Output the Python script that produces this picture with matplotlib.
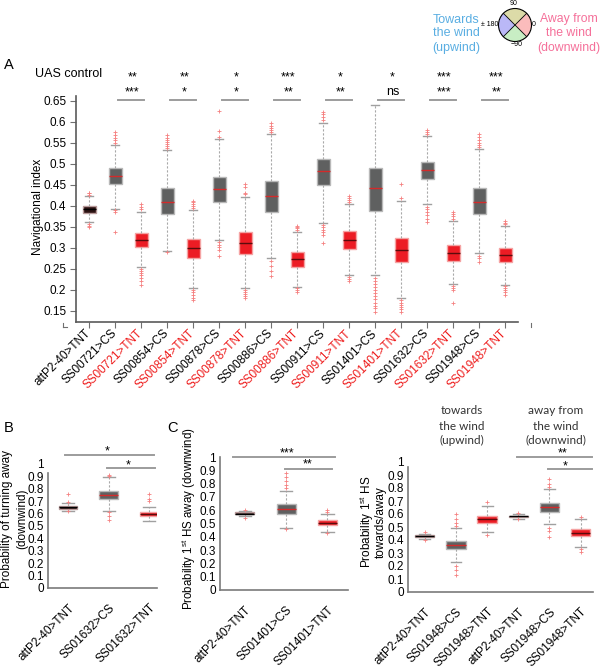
import matplotlib
matplotlib.use('Agg')
import matplotlib.pyplot as plt
from matplotlib.patches import Wedge, Circle
from matplotlib.transforms import blended_transform_factory
from matplotlib.ticker import FuncFormatter

plt.rcParams['font.family'] = ['Liberation Sans', 'DejaVu Sans']
plt.rcParams['mathtext.fontset'] = 'custom'
plt.rcParams['mathtext.rm'] = 'Liberation Sans'
plt.rcParams['mathtext.it'] = 'Liberation Sans:italic'

# ---------------- data: panel A ----------------
labels_A = ['attP2-40>TNT', 'SS00721>CS', 'SS00721>TNT', 'SS00854>CS', 'SS00854>TNT',
            'SS00878>CS', 'SS00878>TNT', 'SS00886>CS', 'SS00886>TNT', 'SS00911>CS',
            'SS00911>TNT', 'SS01401>CS', 'SS01401>TNT', 'SS01632>CS', 'SS01632>TNT',
            'SS01948>CS', 'SS01948>TNT']
types_A = ['ctrl'] + ['cs', 'tnt'] * 8
q1_A = [0.384, 0.452, 0.303, 0.382, 0.275, 0.409, 0.286, 0.386, 0.255, 0.451, 0.298,
        0.387, 0.266, 0.465, 0.270, 0.380, 0.266]
med_A = [0.392, 0.471, 0.320, 0.410, 0.299, 0.440, 0.313, 0.424, 0.273, 0.483, 0.320,
         0.443, 0.295, 0.485, 0.289, 0.410, 0.283]
q3_A = [0.400, 0.490, 0.336, 0.444, 0.321, 0.468, 0.339, 0.459, 0.290, 0.513, 0.341,
        0.490, 0.324, 0.505, 0.308, 0.442, 0.299]
wlo_A = [0.361, 0.394, 0.254, 0.293, 0.205, 0.319, 0.205, 0.277, 0.208, 0.360, 0.235,
         0.235, 0.180, 0.404, 0.214, 0.289, 0.213]
whi_A = [0.424, 0.545, 0.386, 0.533, 0.390, 0.559, 0.422, 0.571, 0.339, 0.598, 0.405,
         0.640, 0.412, 0.567, 0.365, 0.535, 0.353]
fliers_A = [
    [0.427, 0.430, 0.432, 0.357, 0.353, 0.349],
    [0.550, 0.556, 0.562, 0.570, 0.577, 0.390, 0.385, 0.339],
    [0.392, 0.398, 0.405, 0.250, 0.245, 0.240, 0.235, 0.228, 0.222, 0.212],
    [0.537, 0.542, 0.548, 0.553, 0.558, 0.563, 0.569, 0.290],
    [0.395, 0.400, 0.405, 0.409, 0.413, 0.200, 0.195, 0.188, 0.182, 0.176],
    [0.565, 0.578, 0.625, 0.314, 0.308, 0.302, 0.296, 0.282],
    [0.428, 0.432, 0.445, 0.452, 0.200, 0.195, 0.190, 0.185, 0.180],
    [0.575, 0.580, 0.585, 0.590, 0.598, 0.270, 0.258, 0.245, 0.233],
    [0.343, 0.347, 0.350, 0.353, 0.204, 0.200, 0.196],
    [0.605, 0.612, 0.618, 0.624, 0.355, 0.350, 0.344, 0.338, 0.330, 0.313],
    [0.410, 0.415, 0.420, 0.424, 0.230, 0.226, 0.222],
    [0.228, 0.222, 0.215, 0.208, 0.200, 0.192, 0.185, 0.178, 0.170, 0.163, 0.156, 0.148],
    [0.420, 0.452, 0.175, 0.170, 0.165, 0.160, 0.155, 0.148],
    [0.572, 0.576, 0.581, 0.398, 0.392, 0.386, 0.378, 0.370, 0.361],
    [0.370, 0.375, 0.380, 0.386, 0.210, 0.205, 0.200, 0.168],
    [0.540, 0.545, 0.550, 0.557, 0.565, 0.571, 0.282, 0.275, 0.266],
    [0.357, 0.360, 0.365, 0.210, 0.205, 0.200, 0.195, 0.189],
]
sig_uas = ['**', '**', '*', '***', '*', '*', '***', '***']
sig_pair = ['***', '*', '*', '**', '**', 'ns', '***', '**']
yticks_A = [0.15, 0.2, 0.25, 0.3, 0.35, 0.4, 0.45, 0.5, 0.55, 0.6, 0.65]

# ---------------- data: panel B ----------------
labels_B = ['attP2-40>TNT', 'SS01632>CS', 'SS01632>TNT']
types_B = ['ctrl', 'cs', 'tnt']
q1_B = [0.640, 0.718, 0.578]
med_B = [0.652, 0.753, 0.597]
q3_B = [0.664, 0.785, 0.613]
wlo_B = [0.625, 0.618, 0.538]
whi_B = [0.685, 0.892, 0.650]
fliers_B = [[0.69, 0.62, 0.76], [0.91, 0.90, 0.61, 0.58, 0.55], [0.70, 0.72, 0.76]]

# ---------------- data: panel C ----------------
labels_C = ['attP2-40>TNT', 'SS01401>CS', 'SS01401>TNT']
types_C = ['ctrl', 'cs', 'tnt']
q1_C = [0.568, 0.575, 0.488]
med_C = [0.575, 0.612, 0.505]
q3_C = [0.588, 0.650, 0.523]
wlo_C = [0.560, 0.463, 0.438]
whi_C = [0.595, 0.745, 0.575]
fliers_C = [[0.60, 0.545], [0.88, 0.85, 0.82, 0.79, 0.77, 0.46], [0.605, 0.59, 0.43]]

# ---------------- data: panel D ----------------
labels_D = ['attP2-40>TNT', 'SS01948>CS', 'SS01948>TNT',
            'attP2-40>TNT', 'SS01948>CS', 'SS01948>TNT']
types_D = ['ctrl', 'cs', 'tnt', 'ctrl', 'cs', 'tnt']
q1_D = [0.420, 0.330, 0.529, 0.575, 0.619, 0.427]
med_D = [0.428, 0.363, 0.560, 0.583, 0.652, 0.453]
q3_D = [0.435, 0.394, 0.586, 0.588, 0.688, 0.483]
wlo_D = [0.405, 0.228, 0.458, 0.565, 0.522, 0.345]
whi_D = [0.450, 0.490, 0.665, 0.600, 0.790, 0.563]
fliers_D = [[0.46, 0.40], [0.60, 0.56, 0.53, 0.51, 0.20, 0.17, 0.13], [0.69, 0.44],
            [0.61, 0.56], [0.87, 0.83, 0.81, 0.49, 0.47, 0.42], [0.58, 0.33, 0.31]]
yticks_01 = [0, 0.1, 0.2, 0.3, 0.4, 0.5, 0.6, 0.7, 0.8, 0.9, 1.0]

# ---------------- figure ----------------
W, H = 600, 667
fig = plt.figure(figsize=(W / 100, H / 100), dpi=100)


def ax_px(l, t, r, b):
    return fig.add_axes([l / W, 1 - b / H, (r - l) / W, (b - t) / H])


def ftext(x, y, s, **kw):
    return fig.text(x / W, 1 - y / H, s, **kw)


STY = {'ctrl': dict(face='#2c1212', edge='#b89a9a', med='#000000'),
       'cs': dict(face='#5f6060', edge='#b8b8b8', med='#d42a2a'),
       'tnt': dict(face='#ec1c24', edge='#f5a3a3', med='#5a0c0c')}
RED = '#ee1c1c'
GRAY_SIG = '#9c9c9c'
fmt = FuncFormatter(lambda v, p: f'{v:g}')


def draw_boxes(ax, q1, med, q3, lo, hi, fl, types, width, capw):
    for i in range(len(q1)):
        s = STY[types[i]]
        st = [dict(med=med[i], q1=q1[i], q3=q3[i], whislo=lo[i], whishi=hi[i], fliers=fl[i])]
        ax.bxp(st, positions=[i + 1], widths=width, capwidths=capw, patch_artist=True,
               manage_ticks=False,
               boxprops=dict(facecolor=s['face'], edgecolor=s['edge'], linewidth=1.0),
               medianprops=dict(color=s['med'], linewidth=1.0),
               whiskerprops=dict(color='#a8a8a8', linestyle=(0, (2, 1.6)), linewidth=0.8),
               capprops=dict(color='#a0a0a0', linewidth=1.0),
               flierprops=dict(marker='+', markersize=2.4, markeredgecolor='#f58080',
                               markeredgewidth=0.6, linestyle='none'))


def style_ax(ax, col='#5a5a5a'):
    for s in ['top', 'right']:
        ax.spines[s].set_visible(False)
    for s in ['left', 'bottom']:
        ax.spines[s].set_color(col)
        ax.spines[s].set_linewidth(1.2)


# ---------------- panel A ----------------
axA = ax_px(76, 96, 518, 322)
draw_boxes(axA, q1_A, med_A, q3_A, wlo_A, whi_A, fliers_A, types_A, 0.5, 0.32)
axA.set_xlim(0.5, 17.5)
axA.set_ylim(0.1238, 0.6619)
style_ax(axA)
axA.set_yticks(yticks_A)
axA.yaxis.set_major_formatter(fmt)
axA.set_xticks(range(1, 18))
axA.set_xticklabels(labels_A, rotation=45, ha='right', va='center', rotation_mode='anchor')
for lab, t in zip(axA.get_xticklabels(), types_A):
    lab.set_color(RED if t == 'tnt' else 'black')
axA.tick_params(axis='both', direction='out', length=4, width=0.8, color='#707070',
                labelsize=8.5, pad=3)
trA = blended_transform_factory(axA.transData, axA.transAxes)
for xx in [0, 18]:
    axA.plot([xx, xx], [-0.005, -0.022], transform=trA, color='#707070', lw=0.8, clip_on=False)
axA.plot([0, 0.15], [-0.022, -0.022], transform=trA, color='#707070', lw=0.8, clip_on=False)
for k in range(8):
    i = 2 + 2 * k
    axA.plot([i + 0.1, i + 1.12], [0.6524, 0.6524], color=GRAY_SIG, lw=1.4, clip_on=False)
    axA.text(i + 0.67, 0.700, sig_uas[k], ha='center', va='baseline', fontsize=9, clip_on=False)
    axA.text(i + 0.67, 0.664, sig_pair[k], ha='center', va='baseline', fontsize=9, clip_on=False)
axA.text(0.21, 0.707, 'UAS control', ha='center', va='baseline', fontsize=9, clip_on=False)
ftext(38, 207, 'Navigational index', rotation=90, ha='center', va='center', fontsize=8.5)
ftext(9, 65, 'A', ha='center', va='center', fontsize=10.5)


def small_panel(ax, q1, med, q3, lo, hi, fl, types, labels, width, capw, xlim, top):
    draw_boxes(ax, q1, med, q3, lo, hi, fl, types, width, capw)
    ax.set_xlim(*xlim)
    ax.set_ylim(0, 1.0)
    style_ax(ax, '#7a7a7a')
    ax.spines['left'].set_bounds(0, top)
    ax.set_yticks(yticks_01)
    ax.yaxis.set_major_formatter(fmt)
    ax.set_xticks(range(1, len(labels) + 1))
    ax.set_xticklabels(labels, rotation=45, ha='right', va='top', rotation_mode='anchor')
    ax.tick_params(axis='both', length=0, labelsize=8.5)
    ax.tick_params(axis='x', pad=10)
    ax.tick_params(axis='y', pad=3)


# ---------------- panel B ----------------
axB = ax_px(48, 464, 157, 588)
small_panel(axB, q1_B, med_B, q3_B, wlo_B, whi_B, fliers_B, types_B, labels_B, 0.45, 0.3,
            (0.5, 3.2), 0.93)
axB.plot([0.93, 3.13], [1.073, 1.073], color=GRAY_SIG, lw=1.4, clip_on=False)
axB.text(1.97, 1.078, '*', ha='center', va='baseline', fontsize=9, clip_on=False)
axB.plot([1.97, 3.16], [0.968, 0.968], color=GRAY_SIG, lw=1.4, clip_on=False)
axB.text(2.49, 0.962, '*', ha='center', va='baseline', fontsize=9, clip_on=False)
ftext(7, 519, 'Probability of turning away', rotation=90, ha='center', va='center', fontsize=8.5)
ftext(22, 519, '(downwind)', rotation=90, ha='center', va='center', fontsize=8.5)
ftext(9, 428, 'B', ha='center', va='center', fontsize=10.5)

# ---------------- panel C ----------------
axC = ax_px(220, 457, 348, 590)
small_panel(axC, q1_C, med_C, q3_C, wlo_C, whi_C, fliers_C, types_C, labels_C, 0.46, 0.3,
            (0.4, 3.5), 1.0)
axC.plot([0.715, 3.18], [1.0, 1.0], color=GRAY_SIG, lw=1.4, clip_on=False)
axC.text(2.02, 1.005, '***', ha='center', va='baseline', fontsize=9, clip_on=False)
axC.plot([1.97, 3.11], [0.91, 0.91], color=GRAY_SIG, lw=1.4, clip_on=False)
axC.text(2.53, 0.925, '**', ha='center', va='baseline', fontsize=9, clip_on=False)
ftext(189, 519, 'Probability 1$^{\\mathrm{st}}$ HS away (downwind)', rotation=90,
      ha='center', va='center', fontsize=8.3)
ftext(173, 428, 'C', ha='center', va='center', fontsize=10.5)

# ---------------- panel D ----------------
axD = ax_px(408, 462, 593, 592)
small_panel(axD, q1_D, med_D, q3_D, wlo_D, whi_D, fliers_D, types_D, labels_D, 0.62, 0.35,
            (0.46, 6.4), 0.96)
axD.plot([3.96, 6.38], [1.038, 1.038], color=GRAY_SIG, lw=1.4, clip_on=False)
axD.text(5.44, 1.042, '**', ha='center', va='baseline', fontsize=9, clip_on=False)
axD.plot([4.96, 6.38], [0.946, 0.946], color=GRAY_SIG, lw=1.4, clip_on=False)
axD.text(5.51, 0.94, '*', ha='center', va='baseline', fontsize=9, clip_on=False)
ftext(367, 522, 'Probability 1$^{\\mathrm{st}}$ HS', rotation=90, ha='center', va='center',
      fontsize=8.5)
ftext(381, 522, 'towards/away', rotation=90, ha='center', va='center', fontsize=8.5)
for txt, yy in [('towards', 411), ('the wind', 426), ('(upwind)', 440)]:
    ftext(462, yy, txt, ha='center', va='center', fontsize=8.5, family='Lato', color='#333333')
for txt, yy in [('away from', 411), ('the wind', 426), ('(downwind)', 440)]:
    ftext(556, yy, txt, ha='center', va='center', fontsize=8.5, family='Lato', color='#333333')

# ---------------- top-right wind legend ----------------
axL = ax_px(482, -8, 548, 58)
axL.set_xlim(-2, 2)
axL.set_ylim(-2, 2)
axL.set_aspect('equal')
axL.axis('off')
for a0, a1, c in [(45, 135, '#dcdba8'), (-45, 45, '#fbbcbc'), (-135, -45, '#c8eec4'),
                  (135, 225, '#bab8f7')]:
    axL.add_patch(Wedge((0, 0), 1, a0, a1, facecolor=c, edgecolor='none'))
axL.add_patch(Circle((0, 0), 1, facecolor='none', edgecolor='black', lw=0.8))
axL.plot([-0.7071, 0.7071], [-0.7071, 0.7071], color='black', lw=0.6)
axL.plot([-0.7071, 0.7071], [0.7071, -0.7071], color='black', lw=0.6)
ftext(514, 3.5, '90', ha='center', va='center', fontsize=5)
ftext(534, 24, '0', ha='center', va='center', fontsize=5)
ftext(517, 45, '\u221290', ha='center', va='center', fontsize=5)
ftext(490, 24, '\u00b1 180', ha='center', va='center', fontsize=5)
BLUE = '#5aaee2'
PINK = '#f5709a'
for txt, yy in [('Towards', 20), ('the wind', 33.5), ('(upwind)', 48)]:
    ftext(456, yy, txt, ha='center', va='center', fontsize=9, color=BLUE)
for txt, yy in [('Away from', 19), ('the wind', 33), ('(downwind)', 48)]:
    ftext(569, yy, txt, ha='center', va='center', fontsize=8.8, color=PINK)

fig.savefig('out.png', dpi=100)
